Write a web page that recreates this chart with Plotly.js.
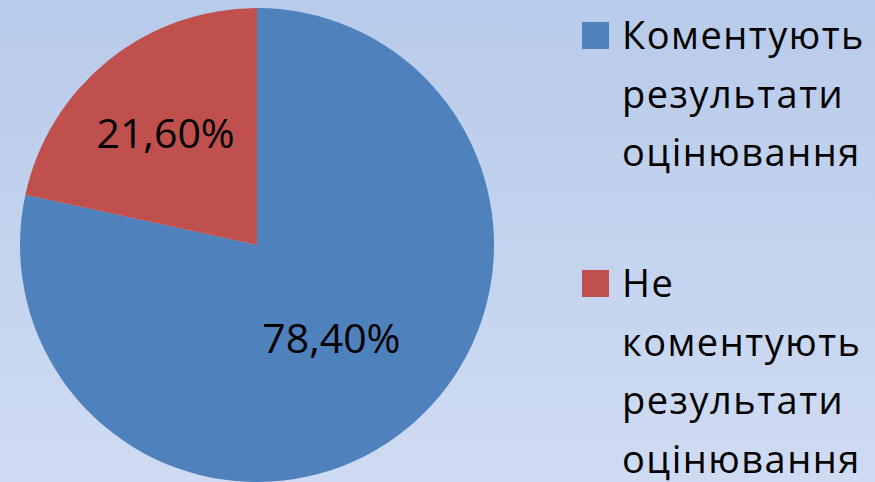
<!DOCTYPE html>
<html>
<head>
<meta charset="utf-8">
<script src="https://cdn.plot.ly/plotly-3.0.1.min.js"></script>
<style>
  html, body { margin: 0; padding: 0; }
  body { width: 875px; height: 482px; overflow: hidden;
         background: linear-gradient(to bottom, #b8cbea 0%, #cfdbf2 100%); }
  #chart { width: 875px; height: 482px; }
</style>
</head>
<body>
<div id="chart"></div>
<script>
const categories = ["Коментують<br>результати<br>оцінювання", "Не<br>коментують<br>результати<br>оцінювання"];
const values = [78.4, 21.6];
const colors = ["#4f81bd", "#c0504d"];

const data = [{
  type: "pie",
  labels: categories,
  values: values,
  sort: false,
  direction: "clockwise",
  rotation: 0,
  marker: { colors: colors, line: { width: 0 } },
  texttemplate: "%{percent:.2%}",
  textposition: "inside",
  insidetextorientation: "horizontal",
  textfont: { family: "'Open Sans', Lato, sans-serif", size: 41, color: "#000000" },
  hoverinfo: "none",
  domain: { x: [20/875, 494/875], y: [0, 474/482] }
}];

const legendFontSize = 38;
const layout = {
  width: 875, height: 482,
  margin: { l: 0, r: 0, t: 0, b: 0, autoexpand: false },
  paper_bgcolor: "rgba(0,0,0,0)",
  plot_bgcolor: "rgba(0,0,0,0)",
  separators: ", ",
  showlegend: true,
  legend: {
    x: 0.66, y: 1, xanchor: "left", yanchor: "top",
    bgcolor: "rgba(0,0,0,0)", borderwidth: 0,
    valign: "top",
    font: { family: "'Open Sans', Lato, sans-serif", size: legendFontSize, color: "#000000" }
  }
};

Plotly.newPlot("chart", data, layout, { staticPlot: true, displayModeBar: false }).then(function (gd) {
  gd.querySelectorAll(".legend [clip-path]").forEach(function (el) { el.removeAttribute("clip-path"); });
  const symCenters = [[595.5, 35.5], [595.5, 283.5]];
  const half = 13.5, linePx = 58.5, textOffset = 26.5;
  gd.querySelectorAll(".legend .traces").forEach(function (g, i) {
    const layers = g.querySelector(".layers");
    if (layers) layers.setAttribute("transform", "translate(0,0)");
    const path = g.querySelector(".legendpoints path");
    const baseX = 20;
    if (path) {
      path.setAttribute("transform", "translate(" + baseX + ",0) scale(" + (half / 6) + ")");
    }
    const text = g.querySelector("text.legendtext");
    if (text) {
      const tx = baseX + textOffset;
      text.setAttribute("x", tx);
      text.setAttribute("y", half);
      text.setAttribute("letter-spacing", "1.5px");
      text.querySelectorAll("tspan.line").forEach(function (t, j) {
        t.setAttribute("x", tx);
        t.setAttribute("y", half);
        t.setAttribute("dy", (j * linePx) + "px");
      });
    }
    const local = g.transform.baseVal.consolidate();
    const lm = local ? local.matrix : { e: 0, f: 0 };
    const ctm = g.getCTM();
    const dx = (symCenters[i][0] - baseX) - ctm.e;
    const dy = symCenters[i][1] - ctm.f;
    g.setAttribute("transform", "translate(" + (lm.e + dx) + "," + (lm.f + dy) + ")");
  });
});
</script>
</body>
</html>
